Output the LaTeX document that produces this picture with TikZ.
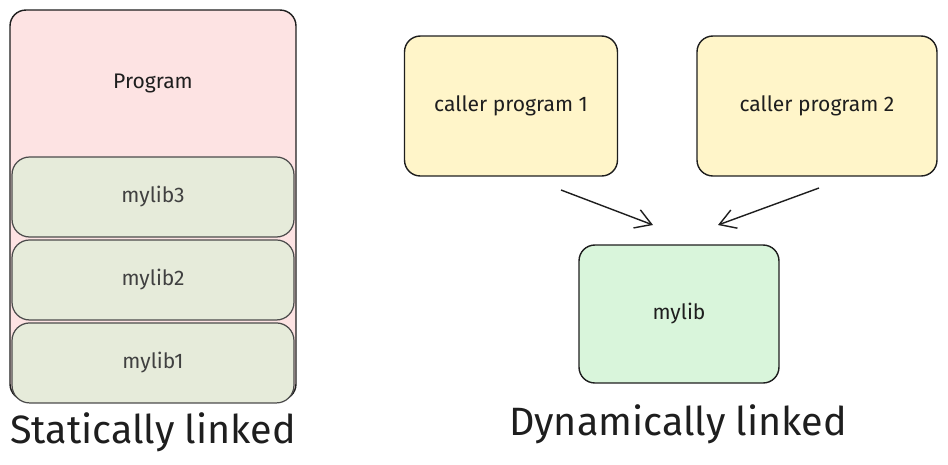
\documentclass[tikz,border=0pt]{standalone}
\usepackage{fontspec}
\setmainfont{Fira Sans}
\usetikzlibrary{arrows.meta, positioning}

\definecolor{ink}{HTML}{1E1E1E}
\definecolor{progpink}{HTML}{FDE3E3}
\definecolor{libmix}{HTML}{E6EBDA}
\definecolor{callyellow}{HTML}{FFF5C9}
\definecolor{dyngreen}{HTML}{D9F5DB}

\begin{document}
\begin{tikzpicture}[
    x=0.02cm, y=-0.02cm,
    node distance=1pt,
    outer/.style = {rectangle, draw=ink, line width=0.8pt, rounded corners=9pt, fill=progpink, minimum width=5.72cm, minimum height=7.8cm},
    libbox/.style = {rectangle, draw=ink!80, line width=0.7pt, rounded corners=10pt, fill=libmix, minimum width=5.64cm, minimum height=1.6cm, font=\fontsize{12}{14}\selectfont, text=ink!85},
    callbox/.style = {rectangle, draw=ink, line width=0.8pt, rounded corners=9pt, fill=callyellow, minimum height=2.8cm, font=\fontsize{12}{14}\selectfont, text=ink},
    dynbox/.style = {rectangle, draw=ink, line width=0.8pt, rounded corners=9pt, fill=dyngreen, minimum width=4cm, minimum height=2.76cm, font=\fontsize{12}{14}\selectfont, text=ink},
    title/.style = {font=\fontsize{22.5}{27}\selectfont, text=ink},
    >={Straight Barb[length=9pt, width=11pt]}]

    \useasboundingbox (0,0) rectangle (948,464);

    % statically linked
    \node[outer] (prog) at (153,205) {};
    \node[font=\fontsize{12}{14}\selectfont, text=ink] (progtxt) at (153,83) {Program};
    \node[libbox] (lib3) at (153,197) {mylib3};
    \node[libbox, below=of lib3] (lib2) {mylib2};
    \node[libbox, below=of lib2] (lib1) {mylib1};
    \node[title] (stat) at (153,432) {Statically linked};

    % dynamically linked
    \node[callbox, minimum width=4.26cm] (call1) at (511,106) {caller program 1};
    \node[callbox, minimum width=4.8cm] (call2) at (817,106) {caller program 2};
    \node[dynbox] (mylib) at (679,314) {mylib};
    \node[title] (dyn) at (678,424) {Dynamically linked};

    \coordinate (a1) at (561,190);
    \coordinate (b1) at (653,225);
    \coordinate (a2) at (819,188);
    \coordinate (b2) at (718,225);
    \draw[->, ink, line width=0.8pt] (a1) -- (b1);
    \draw[->, ink, line width=0.8pt] (a2) -- (b2);

\end{tikzpicture}
\end{document}
